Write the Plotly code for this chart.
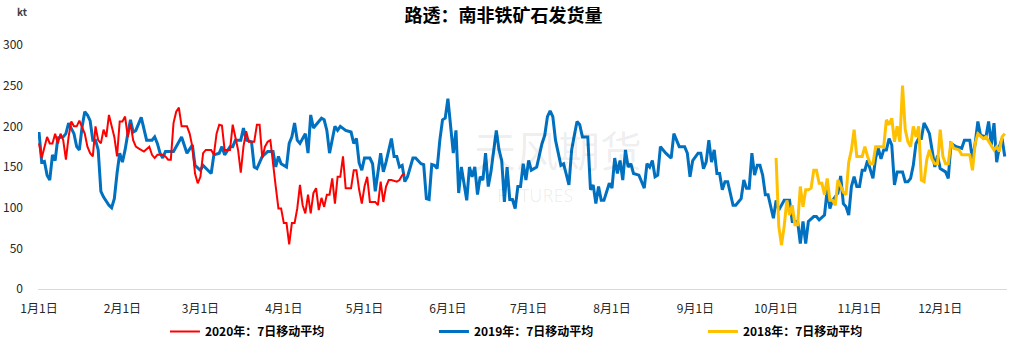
import pandas as pd
import plotly.graph_objects as go

# ---- data (day offset from 1 Jan, value in kt) ----
days_2019 = [0,1,2,3,4,5,6,7,9,10,11,13,14,15,16,17,18,19,20,21,22,23,24,26,27,28,29,30,31,32,33,34,35,36,38,40,42,43,44,45,46,47,50,53,55,57,58,60,61,64,65,67,68,69,71,72,73,75,76,77,79,80,81,83,85,87,88,89,90,92,93,94,95,96,97,98,99,100,101,102,104,105,106,107,108,110,111,112,114,116,117,118,119,120,121,123,124,125,127,128,129,131,132,133,134,135,136,137,139,140,142,143,144,145,146,147,148,149,150,151,152,153,154,155,156,157,159,160,161,162,163,164,165,166,167,168,170,171,172,173,174,175,176,177,178,179,180,181,182,183,185,187,188,189,190,191,192,194,195,197,198,199,200,201,202,204,205,206,207,208,209,210,211,212,213,214,215,216,217,218,219,220,221,223,225,226,227,228,229,230,231,233,235,236,237,238,240,241,242,243,245,246,247,248,249,250,251,252,253,254,255,256,258,259,261,262,263,264,265,266,267,268,269,270,271,273,274,275,277,279,280,282,283,284,285,286,288,289,290,292,293,294,295,297,298,299,300,301,302,303,304,305,306,307,308,309,310,311,312,313,314,315,316,317,318,319,321,322,323,324,325,326,327,328,329,330,331,333,334,335,336,337,338,339,341,343,344,346,347,348,349,350,352,353,354,355,356,357,358,359]
vals_2019 = [193,156,157,140,134,165,158,186,187,191,204,191,175,171,199,218,214,207,183,183,171,120,113,103,100,111,142,167,156,171,191,208,193,195,211,183,183,187,179,167,161,169,169,187,167,177,152,146,152,142,165,167,175,165,175,175,183,183,198,183,181,150,148,163,169,169,150,163,154,150,179,187,204,183,179,185,191,167,214,198,206,210,208,195,167,200,195,200,195,193,179,185,155,146,161,161,154,120,167,144,156,185,163,163,150,152,132,138,161,161,154,153,111,110,153,152,148,183,208,210,234,196,167,195,118,150,109,150,138,150,116,138,134,167,126,144,195,171,158,107,150,110,110,99,126,126,154,134,158,146,150,179,189,212,219,212,183,152,154,128,171,189,206,202,187,187,122,128,105,126,109,109,119,130,124,161,142,158,134,171,150,154,142,140,124,154,150,158,138,140,175,167,161,191,183,175,175,167,138,158,167,167,148,156,183,156,171,142,142,122,132,132,103,103,111,134,124,124,167,140,152,152,140,116,116,87,109,97,109,109,83,83,56,83,56,83,89,89,85,91,122,99,109,118,139,105,101,91,126,138,126,126,146,146,158,148,136,161,173,160,171,171,185,177,128,144,144,132,132,136,152,179,185,185,204,198,191,150,164,148,146,144,136,179,175,173,183,183,159,179,206,189,187,206,177,204,156,175,185,163]

days_2020 = [0,1,3,4,5,6,7,8,9,10,11,12,13,14,15,16,17,18,19,20,21,22,23,24,25,26,27,28,29,30,31,32,33,34,35,36,37,38,39,41,42,43,44,46,47,48,49,50,51,52,53,55,56,57,58,59,60,61,62,64,65,66,67,68,69,70,71,72,73,74,75,76,77,78,80,81,82,83,84,85,86,87,88,89,90,91,92,93,94,95,96,97,98,99,100,101,102,103,104,105,106,107,108,109,110,111,112,113,114,115,116,117,118,119,120,121,122,123,124,125,126,127,128,129,130,131,133,134,135,136]
vals_2020 = [179,161,187,179,179,191,179,191,183,159,187,206,200,200,207,200,191,175,167,163,200,183,179,196,187,214,200,187,163,206,206,212,187,204,183,175,173,171,169,175,165,161,165,165,163,159,159,204,218,223,200,200,191,175,142,130,138,167,171,171,165,191,202,201,171,171,171,202,187,171,143,175,194,181,181,202,202,161,175,181,183,150,126,99,99,81,81,55,81,81,99,128,103,93,116,93,118,124,97,112,101,116,116,136,105,138,138,163,124,124,124,146,146,122,105,126,138,107,107,107,103,132,107,126,134,134,132,134,140,142]

days_2018 = [274,275,276,277,278,279,280,281,282,283,284,285,286,287,288,289,290,291,292,293,294,295,296,297,299,300,301,302,303,304,306,307,308,309,310,311,313,314,315,316,317,318,319,320,321,322,323,324,325,326,327,328,329,330,331,332,333,334,335,336,337,338,339,340,342,343,345,346,347,348,349,351,352,354,355,356,357,358,359]
vals_2018 = [161,77,54,77,109,91,103,79,79,126,101,122,122,124,146,146,130,130,116,136,109,109,103,134,119,116,156,171,196,163,163,175,163,154,154,175,175,175,208,202,210,181,200,181,250,196,181,175,200,187,200,134,132,159,171,159,154,154,196,163,154,154,181,173,171,165,165,165,146,179,191,185,187,177,171,175,169,187,191]

month_ticks = ["1月1日","2月1日","3月1日","4月1日","5月1日","6月1日","7月1日","8月1日","9月1日","10月1日","11月1日","12月1日"]
month_starts = pd.date_range("2020-01-01", periods=12, freq="MS")

base = pd.Timestamp("2020-01-01")
def to_dates(days):
    return [base + pd.Timedelta(days=d) for d in days]

FONT = "Noto Sans CJK SC, Microsoft YaHei, sans-serif"

fig = go.Figure()
fig.add_trace(go.Scatter(x=to_dates(days_2019), y=vals_2019, mode="lines",
                         name="<b>2019年：7日移动平均</b>", line=dict(color="#0070C0", width=3),
                         legendrank=2))
fig.add_trace(go.Scatter(x=to_dates(days_2020), y=vals_2020, mode="lines",
                         name="<b>2020年：7日移动平均</b>", line=dict(color="#FF0000", width=2),
                         legendrank=1))
fig.add_trace(go.Scatter(x=to_dates(days_2018), y=vals_2018, mode="lines",
                         name="<b>2018年：7日移动平均</b>", line=dict(color="#FFC000", width=3),
                         legendrank=3))

fig.update_layout(
    width=1015, height=351,
    margin=dict(l=38, r=8, t=45, b=62, autoexpand=False),
    paper_bgcolor="white", plot_bgcolor="white",
    font=dict(family=FONT, color="#262626", size=12),
    title=dict(text="<b>路透：南非铁矿石发货量</b>", x=0.496, xref="container",
               y=0.955, yref="container", xanchor="center", yanchor="middle",
               font=dict(size=18, color="#000000", family=FONT)),
    showlegend=True,
    legend=dict(orientation="h", x=0.131, xanchor="left",
                y=1 - 317/351, yref="container", yanchor="top",
                entrywidth=224, entrywidthmode="pixels",
                font=dict(size=12, color="#000000", family=FONT), traceorder="normal"),
    xaxis=dict(type="date", range=["2019-12-31 15:00", "2020-12-25 20:00"],
               tickvals=list(month_starts), ticktext=month_ticks, automargin=False,
               showgrid=False, showline=True, linecolor="#d9d9d9", linewidth=1,
               ticks="", zeroline=False, ticklabelstandoff=9,
               tickfont=dict(size=12, color="#262626")),
    yaxis=dict(range=[0, 300], tickvals=[0, 50, 100, 150, 200, 250, 300], automargin=False,
               showgrid=False, showline=False, zeroline=False, ticks="",
               ticklabelstandoff=14, tickfont=dict(size=12, color="#262626")),
)

fig.add_annotation(text="<b>kt</b>", xref="paper", yref="paper", x=(22-38)/969, y=(289-12)/244,
                   xanchor="center", yanchor="middle", showarrow=False,
                   font=dict(size=10, color="#404040", family=FONT))
# faint watermark
fig.add_annotation(text="天风期货", xref="paper", yref="paper", x=(558-38)/969, y=(289-148)/244,
                   xanchor="center", yanchor="middle", showarrow=False,
                   font=dict(size=42, color="rgba(0,0,0,0.07)", family=FONT))
fig.add_annotation(text="FUTURES", xref="paper", yref="paper", x=(535-38)/969, y=(289-195)/244,
                   xanchor="center", yanchor="middle", showarrow=False,
                   font=dict(size=18, color="rgba(0,0,0,0.07)", family="Open Sans"))

fig.write_html("out.html")
